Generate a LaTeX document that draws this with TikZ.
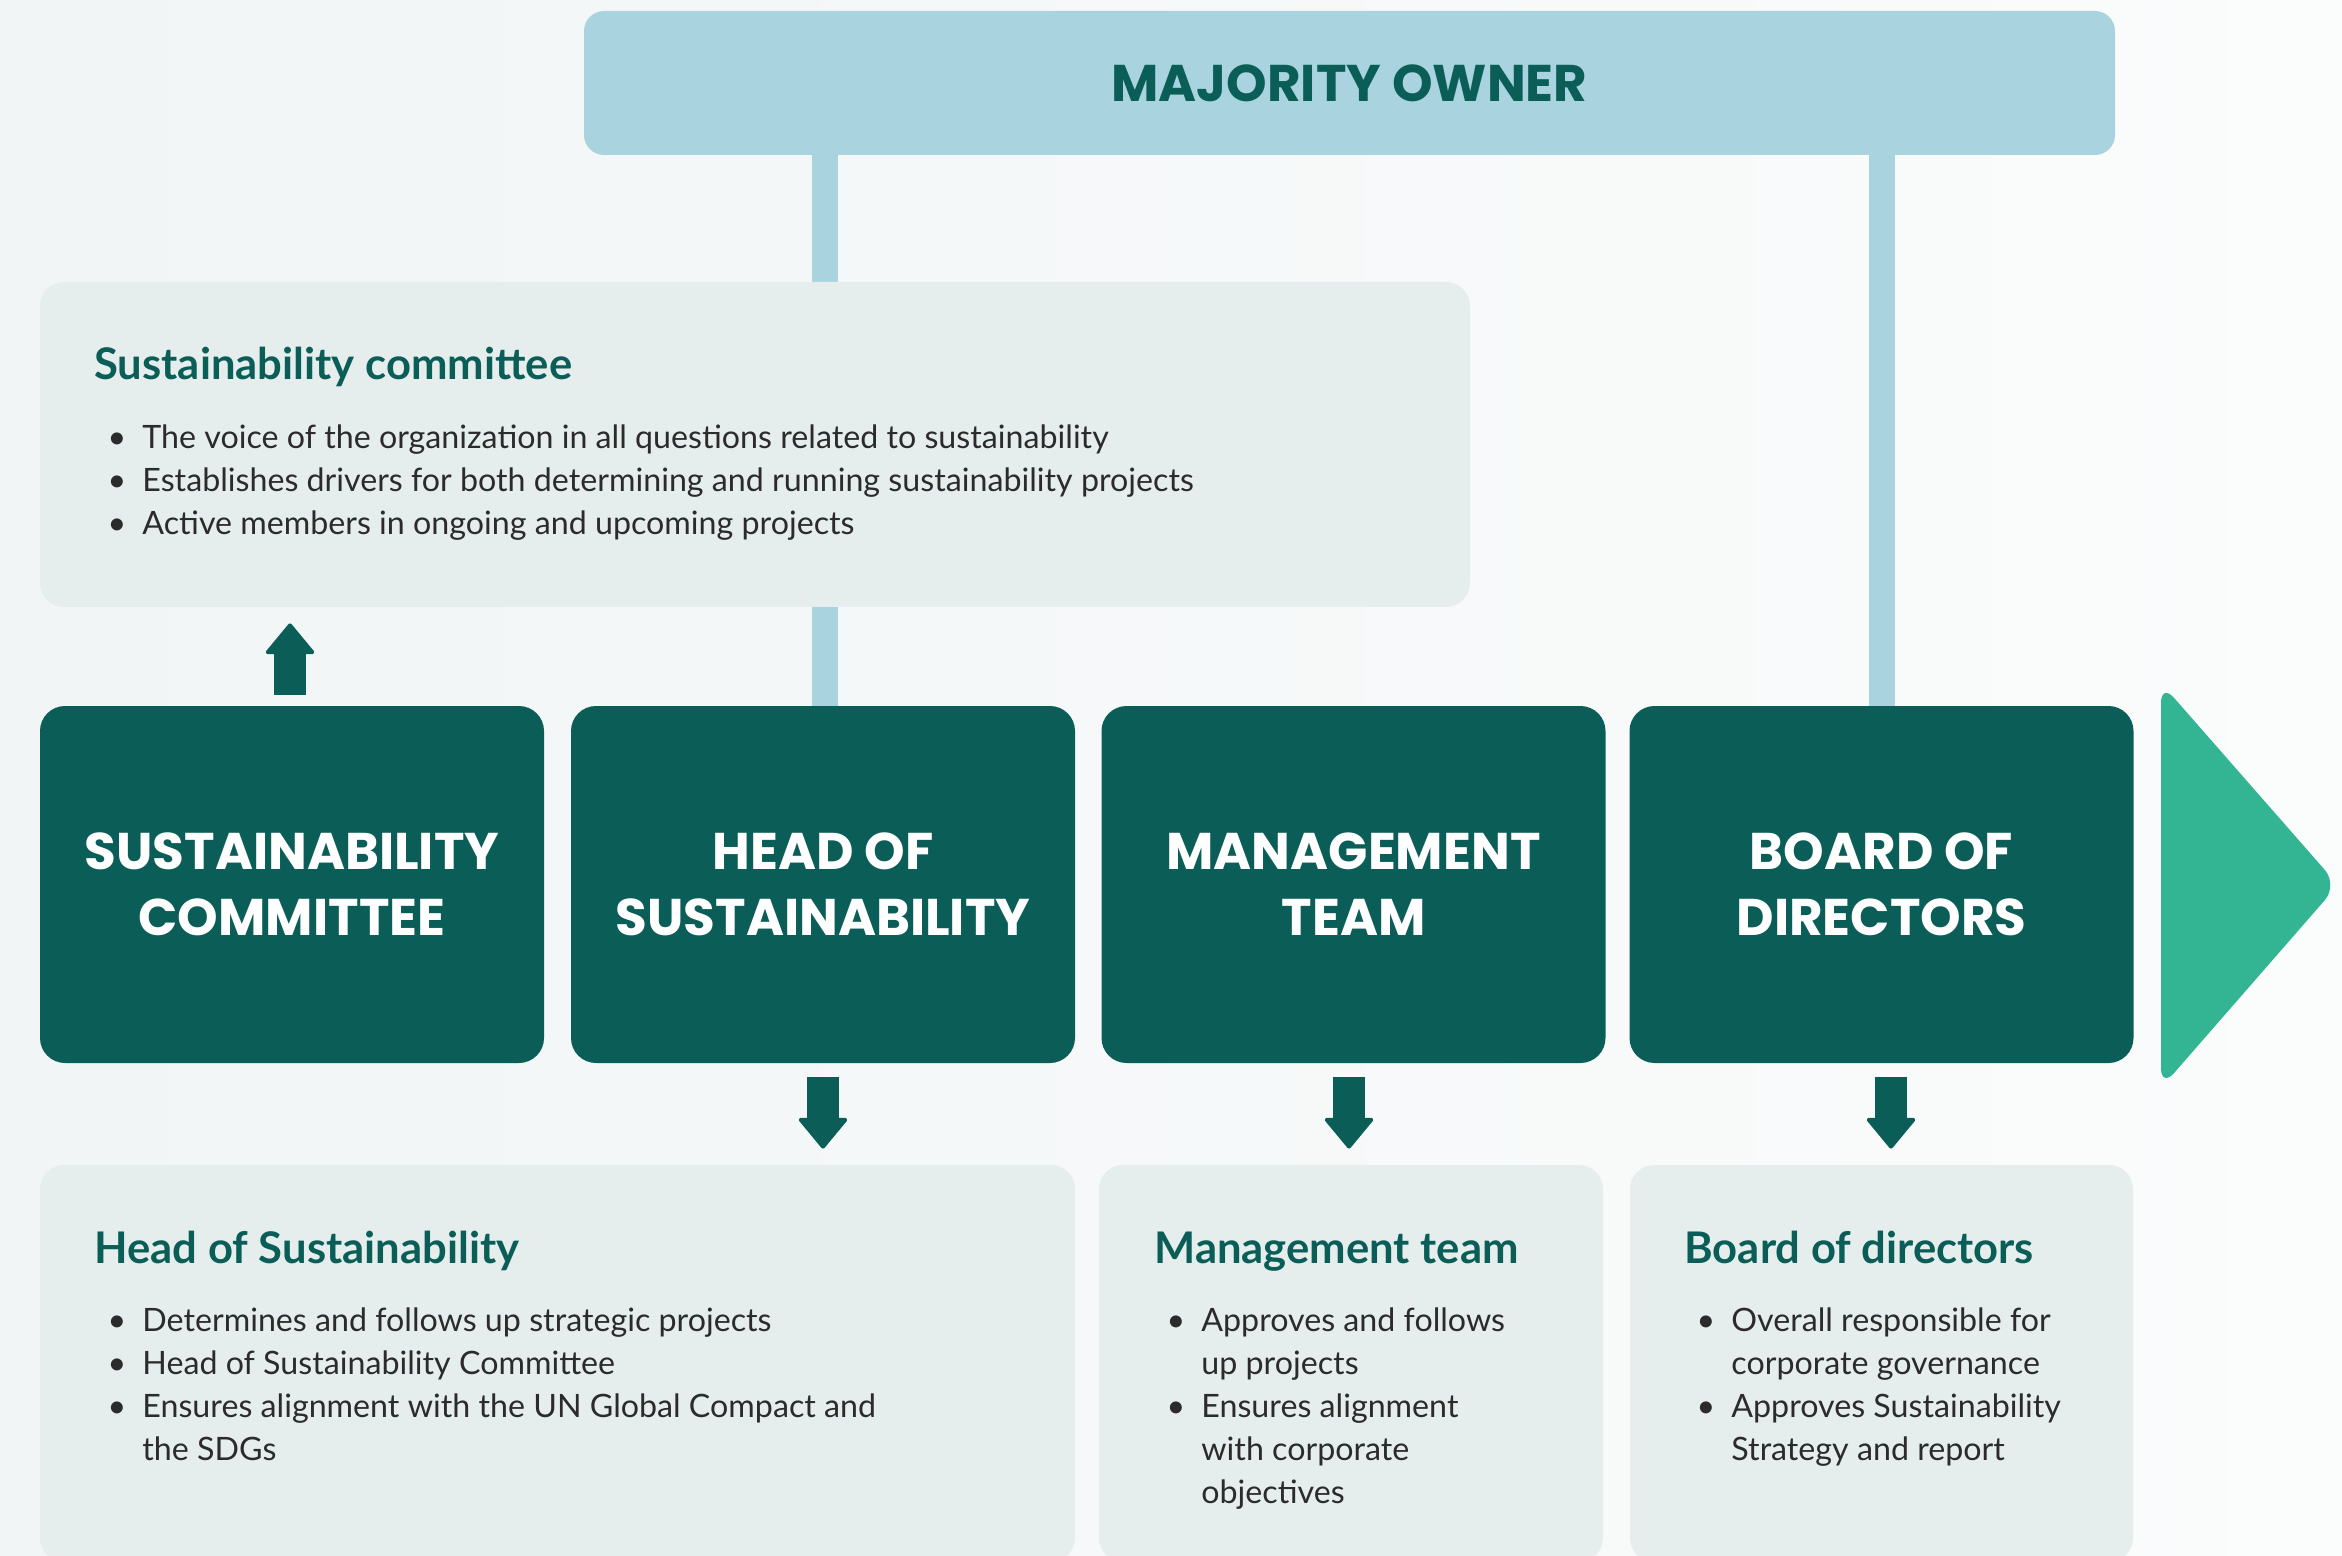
\documentclass[tikz,border=0pt]{standalone}
\usepackage{fontspec}
\setmainfont{Lato}
\newfontfamily\capsfont{Poppins}
\usetikzlibrary{arrows.meta,calc}
\definecolor{cDark}{HTML}{0B5E58}
\definecolor{cBlue}{HTML}{A9D4DF}
\definecolor{cLight}{HTML}{E6EEED}
\definecolor{cGreen}{HTML}{33B594}
\definecolor{cText}{HTML}{2B2B2B}
\definecolor{cBgL}{HTML}{F1F5F6}
\definecolor{cBgR}{HTML}{FBFCFC}
\pgfdeclarelayer{back}
\pgfdeclarelayer{lines}
\pgfsetlayers{back,lines,main}
\tikzset{
  capstxt/.style={font=\capsfont\bfseries\fontsize{25.8}{33}\selectfont},
  mobox/.style={fill=cBlue, rounded corners=10pt, minimum width=765.5pt, minimum height=72pt, text=cDark, capstxt, inner sep=0pt},
  darkbox/.style={fill=cDark, rounded corners=12.5pt, minimum width=252pt, minimum height=178.5pt, text=white, capstxt, align=center, inner sep=0pt},
  lightbox/.style={fill=cLight, rounded corners=12pt, inner sep=0pt},
  vline/.style={draw=cBlue, line width=13pt},
  bigarrow/.style={draw=cDark, line width=16pt, -{Triangle[width=26pt,length=16pt,line width=2pt,round]}},
  title/.style={anchor=base west, inner sep=0pt, text=cDark, font=\bfseries\fontsize{21.8}{25}\selectfont},
  body/.style={anchor=base west, inner sep=0pt, text=cText, font=\fontsize{16.1}{20}\selectfont},
}
\newcommand\bul{\llap{\textbullet\hspace{8pt}}}
\begin{document}
\begin{tikzpicture}[x=0.5pt,y=-0.5pt]
\useasboundingbox (0,0) rectangle (2342,1556);
\begin{pgfonlayer}{back}
\shade[left color=cBgL, right color=cBgR] (0,0) rectangle (2342,1556);
\end{pgfonlayer}

% top owner
\node[mobox] (mo) at (1349.5,83) {MAJORITY OWNER};

% sustainability committee box
\node[lightbox, minimum width=715pt, minimum height=162.5pt] (sc) at (755,444.5) {};
\node[title] (sct) at (94,380) {Sustainability committee};
\node[body] (sc1) at (142,449) {\bul The voice of the organization in all questions related to sustainability};
\node[body] (sc2) at (142,492) {\bul Establishes drivers for both determining and running sustainability projects};
\node[body] (sc3) at (142,535) {\bul Active members in ongoing and upcoming projects};

% dark boxes
\node[darkbox] (bsc) at (292,884.5) {SUSTAINABILITY\\COMMITTEE};
\node[darkbox] (bhs) at (823,884.5) {HEAD OF\\SUSTAINABILITY};
\node[darkbox] (bmt) at (1353.5,884.5) {MANAGEMENT\\TEAM};
\node[darkbox] (bbd) at (1881.5,884.5) {BOARD OF\\DIRECTORS};

% connectors from owner
\begin{pgfonlayer}{lines}
\draw[vline] ($(mo.south -| bhs.north)+(2,-2)$) -- ($(bhs.north)+(2,2)$);
\draw[vline] ($(mo.south -| bbd.north)+(0,-2)$) -- ($(bbd.north)+(0,2)$);
\end{pgfonlayer}

% green triangle
\fill[cGreen, rounded corners=10pt] (2161,683) -- (2338,885) -- (2161,1088) -- cycle;

% bottom boxes
\node[lightbox, minimum width=517.5pt, minimum height=198.5pt] (dhs) at (557.5,1363.5) {};
\node[lightbox, minimum width=252pt, minimum height=198.5pt] (dmt) at (1351,1363.5) {};
\node[lightbox, minimum width=251.5pt, minimum height=198.5pt] (dbd) at (1881.5,1363.5) {};

% arrows
\draw[bigarrow] ($(bsc.north)+(-2,-11)$) -- ($(bsc.north |- sc.south)+(-2,16)$);
\draw[bigarrow] ($(bhs.south)+(0,14)$) -- ($(bhs.south |- dhs.north)+(0,-16)$);
\draw[bigarrow] ($(bmt.south)+(-4.5,14)$) -- ($(bmt.south |- dmt.north)+(-4.5,-16)$);
\draw[bigarrow] ($(bbd.south)+(9.5,14)$) -- ($(bbd.south |- dbd.north)+(9.5,-16)$);

% bottom texts
\node[title] (dhst) at (94,1263) {Head of Sustainability};
\node[body] (dhs1) at (142,1331) {\bul Determines and follows up strategic projects};
\node[body] (dhs2) at (142,1374) {\bul Head of Sustainability Committee};
\node[body] (dhs3) at (142,1417) {\bul Ensures alignment with the UN Global Compact and};
\node[body] (dhs4) at (142,1460) {the SDGs};

\node[title] (dmtt) at (1154,1263) {Management team};
\node[body] (dmt1) at (1201,1331) {\bul Approves and follows};
\node[body] (dmt2) at (1201,1374) {up projects};
\node[body] (dmt3) at (1201,1417) {\bul Ensures alignment};
\node[body] (dmt4) at (1201,1460) {with corporate};
\node[body] (dmt5) at (1201,1503) {objectives};

\node[title] (dbdt) at (1684,1263) {Board of directors};
\node[body] (dbd1) at (1731,1331) {\bul Overall responsible for};
\node[body] (dbd2) at (1731,1374) {corporate governance};
\node[body] (dbd3) at (1731,1417) {\bul Approves Sustainability};
\node[body] (dbd4) at (1731,1460) {Strategy and report};
\end{tikzpicture}
\end{document}
